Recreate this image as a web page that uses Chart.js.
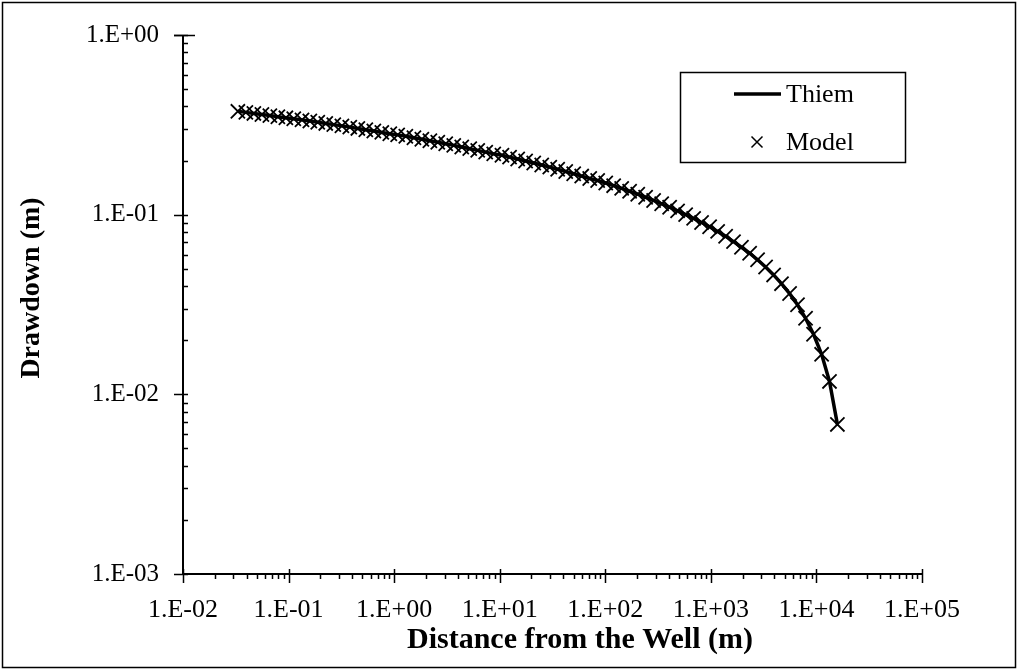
<!DOCTYPE html>
<html>
<head>
<meta charset="utf-8">
<script src="https://cdn.jsdelivr.net/npm/chart.js@4.4.1/dist/chart.umd.min.js"></script>
<style>
  html, body { margin: 0; padding: 0; background: #fff; }
  #wrap { width: 1019px; height: 671px; }
</style>
</head>
<body>
<div id="wrap"><canvas id="myChart" width="1019" height="671"></canvas></div>
<script>
// radial distance from the pumping well (m)
const distance = [
  0.0331, 0.0394, 0.0469, 0.0559, 0.0665, 0.0792, 0.0943, 0.112, 0.134, 0.159,
  0.189, 0.225, 0.268, 0.320, 0.380, 0.453, 0.539, 0.642, 0.764, 0.910,
  1.08, 1.29, 1.54, 1.83, 2.18, 2.59, 3.08, 3.67, 4.37, 5.20,
  6.19, 7.37, 8.78, 10.5, 12.4, 14.8, 17.6, 21.0, 25.0, 29.8,
  35.4, 42.2, 50.2, 59.8, 71.2, 84.7, 101, 120, 143, 170,
  203, 241, 287, 342, 407, 484, 577, 687, 817, 973,
  1160, 1380, 1640, 1950, 2330, 2770, 3300, 3930, 4670, 5570,
  6620, 7890, 9390, 11200, 13300, 15800
];

// analytical Thiem drawdown (m)
const thiemDrawdown = [
  0.376, 0.371, 0.366, 0.361, 0.356, 0.351, 0.346, 0.342, 0.337, 0.332,
  0.327, 0.322, 0.317, 0.312, 0.307, 0.302, 0.297, 0.292, 0.287, 0.282,
  0.278, 0.273, 0.268, 0.263, 0.258, 0.253, 0.248, 0.243, 0.238, 0.233,
  0.228, 0.223, 0.218, 0.214, 0.209, 0.204, 0.199, 0.194, 0.189, 0.184,
  0.179, 0.174, 0.169, 0.164, 0.159, 0.155, 0.150, 0.145, 0.140, 0.135,
  0.130, 0.125, 0.120, 0.115, 0.110, 0.105, 0.100, 0.0954, 0.0905, 0.0856,
  0.0807, 0.0758, 0.0708, 0.0659, 0.0610, 0.0561, 0.0511, 0.0462, 0.0413, 0.0364,
  0.0315, 0.0265, 0.0216, 0.0167, 0.0118, 0.0068
];

// simulated drawdown (m)
const modelDrawdown = [
  0.376, 0.371, 0.366, 0.361, 0.356, 0.351, 0.346, 0.342, 0.337, 0.332,
  0.327, 0.322, 0.317, 0.312, 0.307, 0.302, 0.297, 0.292, 0.287, 0.282,
  0.278, 0.273, 0.268, 0.263, 0.258, 0.253, 0.248, 0.243, 0.238, 0.233,
  0.228, 0.223, 0.218, 0.214, 0.209, 0.204, 0.199, 0.194, 0.189, 0.184,
  0.179, 0.174, 0.169, 0.164, 0.159, 0.155, 0.150, 0.145, 0.140, 0.135,
  0.130, 0.125, 0.120, 0.115, 0.110, 0.105, 0.100, 0.0954, 0.0905, 0.0856,
  0.0807, 0.0758, 0.0708, 0.0659, 0.0610, 0.0561, 0.0511, 0.0462, 0.0413, 0.0364,
  0.0315, 0.0265, 0.0216, 0.0167, 0.0118, 0.0068
];

const xDecades = [0.01, 0.1, 1, 10, 100, 1000, 10000, 100000];
const xTickLabels = ["1.E-02", "1.E-01", "1.E+00", "1.E+01", "1.E+02", "1.E+03", "1.E+04", "1.E+05"];
const yDecades = [0.001, 0.01, 0.1, 1];
const yTickLabels = ["1.E-03", "1.E-02", "1.E-01", "1.E+00"];

const FONT = '"Liberation Serif", "Times New Roman", serif';

function labelFor(decades, labels, value) {
  for (let i = 0; i < decades.length; i++) {
    if (Math.abs(Math.log10(value) - Math.log10(decades[i])) < 1e-6) return labels[i];
  }
  return "";
}

// log ticks: major crosses the axis, minor ticks inside (y) / outside (x)
const axesPlugin = {
  id: "axesPlugin",
  afterDraw(chart) {
    const c = chart.ctx;
    const a = chart.chartArea;
    const xs = chart.scales.x;
    const ys = chart.scales.y;
    c.save();
    c.strokeStyle = "#000";
    c.lineCap = "butt";

    // frame around the whole figure
    c.lineWidth = 1.5;
    c.strokeRect(2.5, 2.5, 1013, 665);

    c.lineWidth = 2;
    c.beginPath();
    c.moveTo(a.left, a.top);
    c.lineTo(a.left, a.bottom);
    c.lineTo(a.right, a.bottom);
    c.stroke();

    c.lineWidth = 1.5;
    c.beginPath();
    for (let e = -3; e <= 0; e++) {
      for (let m = 1; m <= 9; m++) {
        const v = m * Math.pow(10, e);
        if (v > 1.0000001) break;
        const py = Math.round(ys.getPixelForValue(v)) + 0.5;
        if (m === 1) {
          c.moveTo(a.left - 9, py);
          c.lineTo(a.left + 5, py);
        } else {
          c.moveTo(a.left, py);
          c.lineTo(a.left + 5, py);
        }
      }
    }
    for (let e = -2; e <= 5; e++) {
      for (let m = 1; m <= 9; m++) {
        const v = m * Math.pow(10, e);
        if (v > 100000.1) break;
        const px = Math.round(xs.getPixelForValue(v)) + 0.5;
        if (m === 1) {
          c.moveTo(px, a.bottom - 5);
          c.lineTo(px, a.bottom + 9);
        } else {
          c.moveTo(px, a.bottom);
          c.lineTo(px, a.bottom + 5);
        }
      }
    }
    c.stroke();
    // short cap at the top of the value axis
    c.beginPath();
    c.moveTo(a.left - 9, a.top + 0.5);
    c.lineTo(a.left + 12, a.top + 0.5);
    c.stroke();

    // axis titles
    c.fillStyle = "#000";
    c.textBaseline = "middle";
    c.textAlign = "center";
    c.font = "bold 30px " + FONT;
    c.fillText("Distance from the Well (m)", 580, 640);
    c.font = "bold 28px " + FONT;
    c.save();
    c.translate(32, 288);
    c.rotate(-Math.PI / 2);
    c.fillText("Drawdown (m)", 0, 0);
    c.restore();

    // legend box
    c.lineWidth = 1.5;
    c.strokeRect(680.5, 72.5, 225, 90);
    c.lineWidth = 3.5;
    c.beginPath();
    c.moveTo(734, 94);
    c.lineTo(781, 94);
    c.stroke();
    c.lineWidth = 1.5;
    c.beginPath();
    c.moveTo(757 - 5.5, 142 - 5.5);
    c.lineTo(757 + 5.5, 142 + 5.5);
    c.moveTo(757 + 5.5, 142 - 5.5);
    c.lineTo(757 - 5.5, 142 + 5.5);
    c.stroke();
    c.font = "26px " + FONT;
    c.textAlign = "left";
    c.fillText("Thiem", 786, 95);
    c.fillText("Model", 786, 143);
    c.restore();
  }
};

const ctx = document.getElementById("myChart");

new Chart(ctx, {
  type: "line",
  data: {
    datasets: [
      {
        label: "Model",
        data: distance.map((d, i) => ({ x: d, y: modelDrawdown[i] })),
        showLine: false,
        pointStyle: "crossRot",
        pointRadius: 10,
        pointBorderWidth: 1.8,
        pointBorderColor: "#000",
        pointBackgroundColor: "#000",
        borderColor: "#000"
      },
      {
        label: "Thiem",
        data: distance.map((d, i) => ({ x: d, y: thiemDrawdown[i] })),
        borderColor: "#000",
        borderWidth: 3.5,
        pointRadius: 0,
        tension: 0,
        fill: false
      }
    ]
  },
  options: {
    responsive: false,
    animation: false,
    layout: { padding: { top: 35, right: 97, bottom: 0, left: 0 } },
    plugins: {
      legend: { display: false },
      tooltip: { enabled: false }
    },
    scales: {
      x: {
        type: "logarithmic",
        min: 0.01,
        max: 100000,
        grid: { display: false },
        border: { display: false },
        afterBuildTicks(scale) {
          scale.ticks = xDecades.map(v => ({ value: v, major: true }));
        },
        afterFit(scale) {
          scale.height = 97;
        },
        ticks: {
          autoSkip: false,
          maxRotation: 0,
          padding: 13,
          color: "#000",
          font: { family: FONT, size: 26 },
          callback: v => labelFor(xDecades, xTickLabels, v)
        }
      },
      y: {
        type: "logarithmic",
        min: 0.001,
        max: 1,
        grid: { display: false },
        border: { display: false },
        afterBuildTicks(scale) {
          scale.ticks = yDecades.map(v => ({ value: v, major: true }));
        },
        afterFit(scale) {
          scale.width = 183;
        },
        ticks: {
          autoSkip: false,
          padding: 16,
          color: "#000",
          font: { family: FONT, size: 25 },
          callback: v => labelFor(yDecades, yTickLabels, v)
        }
      }
    }
  },
  plugins: [axesPlugin]
});
</script>
</body>
</html>
